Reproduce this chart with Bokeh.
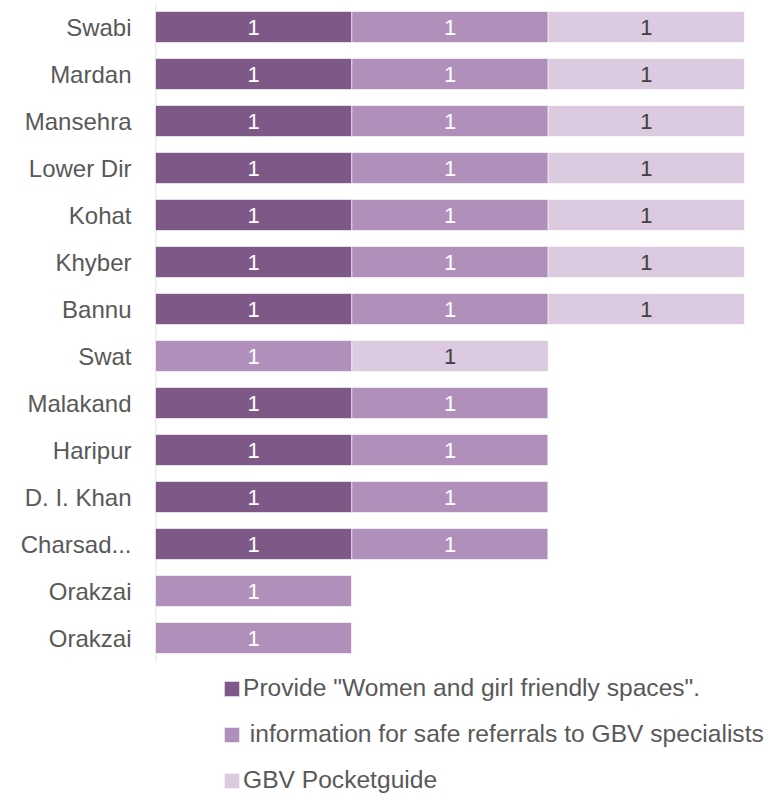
from bokeh.plotting import figure
from bokeh.models import Range1d, FixedTicker, Legend, LegendItem, ColumnDataSource
from bokeh.core.properties import value
from bokeh.embed import file_html
from bokeh.resources import INLINE
import numpy as np

categories = ["Swabi", "Mardan", "Mansehra", "Lower Dir", "Kohat", "Khyber", "Bannu",
              "Swat", "Malakand", "Haripur", "D. I. Khan", "Charsad...", "Orakzai", "Orakzai"]
series_names = ['Provide "Women and girl friendly spaces".',
                ' information for safe referrals to GBV specialists',
                'GBV Pocketguide']
friendly_spaces = [1, 1, 1, 1, 1, 1, 1, 0, 1, 1, 1, 1, 0, 0]
safe_referrals = [1, 1, 1, 1, 1, 1, 1, 1, 1, 1, 1, 1, 1, 1]
pocketguide = [1, 1, 1, 1, 1, 1, 1, 1, 0, 0, 0, 0, 0, 0]

colors = ["#7E5887", "#B090BB", "#DBCAE0"]
label_colors = ["#FFFFFF", "#FFFFFF", "#404040"]
FONT = "Liberation Sans"

series = [friendly_spaces, safe_referrals, pocketguide]
ys = list(range(len(categories)))
n = len(categories)

W, H = 776, 794
row_px = 47.0
top_px = 3
frame_left = 155
unit_px = (744 - frame_left) / 3.0
y_bottom = -0.5 + (H - top_px) / row_px
x_end = (W - frame_left) / unit_px

p = figure(width=W, height=H, output_backend="svg", toolbar_location=None,
           x_range=Range1d(0, x_end), y_range=Range1d(y_bottom, -0.5),
           min_border_left=frame_left, min_border_right=0, min_border_top=top_px,
           min_border_bottom=0)

p.xaxis.visible = False
p.xgrid.visible = False
p.ygrid.visible = False
p.outline_line_color = None

# category axis line (spans only the category rows)
p.segment(x0=[0], y0=[-0.5], x1=[0], y1=[n - 0.5], line_color="#D9D9D9", line_width=1.5)

left = np.zeros(n)
renderers = []
for k, vals in enumerate(series):
    v = np.array(vals, dtype=float)
    src = ColumnDataSource(dict(y=ys, left=left.copy(), right=left + v))
    r = p.hbar(y="y", left="left", right="right", height=0.66, source=src,
               fill_color=colors[k], line_color="white", line_width=0.6)
    renderers.append(r)
    mask = v > 0
    tsrc = ColumnDataSource(dict(x=(left + v / 2)[mask], y=np.array(ys)[mask],
                                 t=[str(int(a)) for a in v[mask]]))
    p.text(x="x", y="y", text="t", source=tsrc, text_align="center", text_baseline="middle",
           text_font=value(FONT), text_font_size="22px", text_color=label_colors[k])
    left = left + v

yaxis = p.yaxis[0]
yaxis.ticker = FixedTicker(ticks=ys)
yaxis.major_label_overrides = {i: c for i, c in enumerate(categories)}
yaxis.major_tick_line_color = None
yaxis.major_tick_out = 0
yaxis.major_tick_in = 0
yaxis.minor_tick_line_color = None
yaxis.axis_line_color = None
yaxis.major_label_text_font = FONT
yaxis.major_label_text_font_size = "24px"
yaxis.major_label_text_color = "#595959"
yaxis.major_label_standoff = 24

legend = Legend(items=[LegendItem(label=series_names[i], renderers=[renderers[i]]) for i in range(3)],
                orientation="vertical", location=(67, 0))
legend.border_line_color = None
legend.background_fill_alpha = 0
legend.label_text_font = FONT
legend.label_text_font_size = "24.6px"
legend.label_text_color = "#595959"
legend.glyph_width = 19
legend.glyph_height = 19
legend.label_height = 24
legend.label_standoff = 2
legend.spacing = 18
legend.padding = 0
legend.margin = 0
p.add_layout(legend, "center")

open("out.html", "w").write(file_html(p, INLINE))
